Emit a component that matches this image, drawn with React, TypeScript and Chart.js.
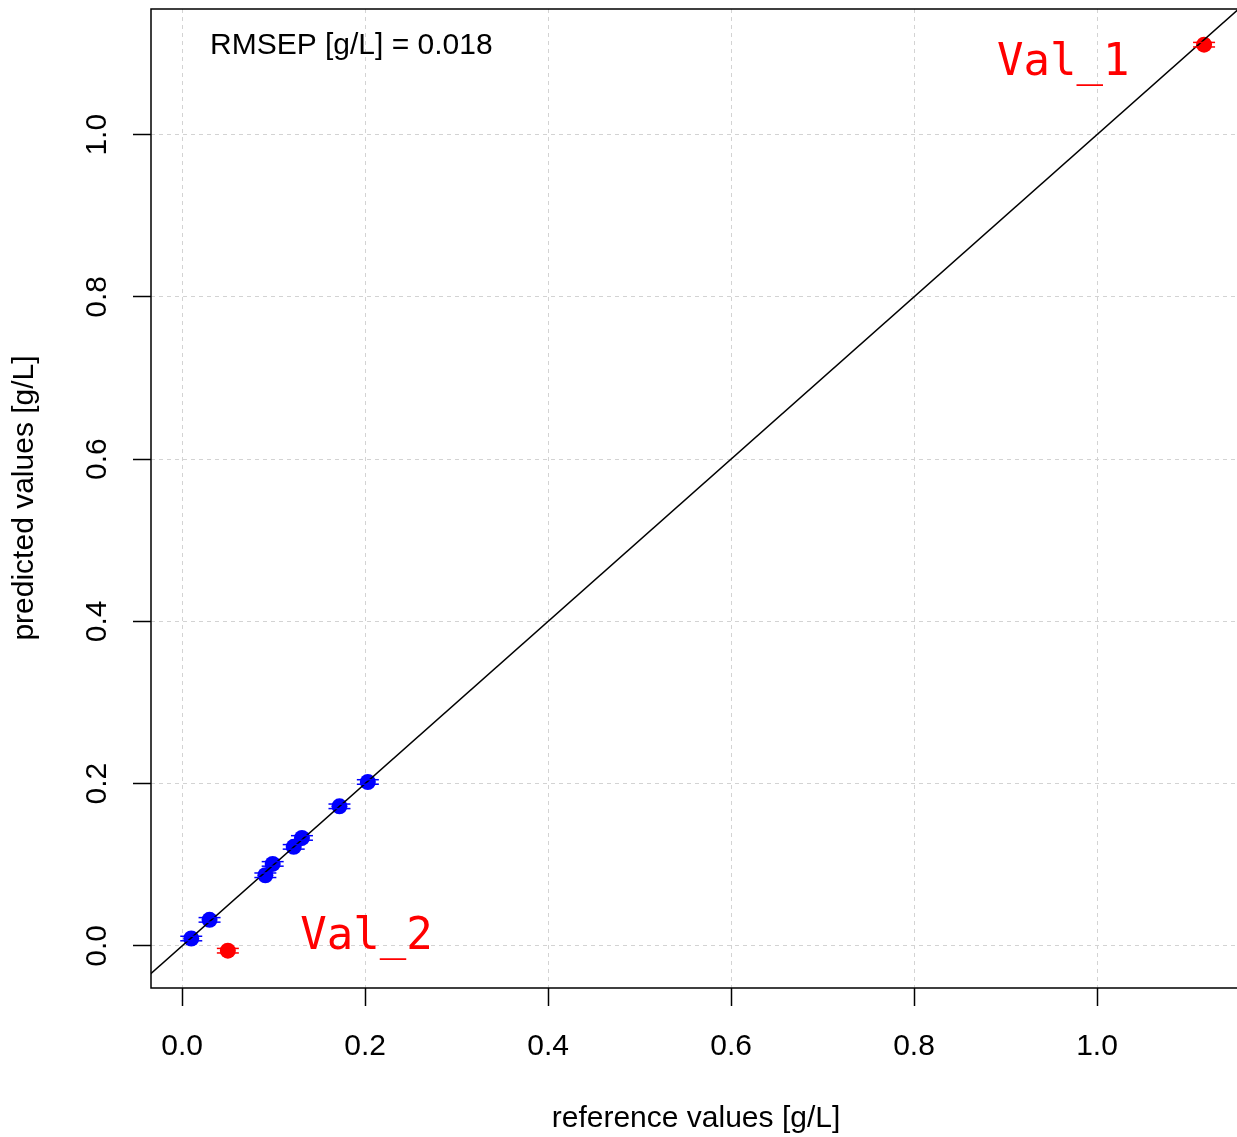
import React, { useEffect, useRef } from "react";
import { Chart, registerables } from "chart.js";

Chart.register(...registerables);

const TICKS = [0, 0.2, 0.4, 0.6, 0.8, 1.0];
const CAL_X = [0.010, 0.030, 0.091, 0.099, 0.122, 0.131, 0.172, 0.203];
const CAL_Y = [0.009, 0.032, 0.087, 0.101, 0.122, 0.133, 0.172, 0.202];
const VAL_X = [0.050, 1.117];
const VAL_Y = [-0.006, 1.111];
const VAL_NAMES = ["Val_2", "Val_1"];
const VAL_LABEL_X = [0.2015, 0.963];
const VAL_LABEL_Y = [-0.004, 1.074];
const Y_ERR = 0.0028;
const RMSEP_TEXT = "RMSEP [g/L] = 0.018";
const X_TITLE = "reference values [g/L]";
const Y_TITLE = "predicted values [g/L]";

const FONT = "'Liberation Sans', Arial, sans-serif";
const FS = 30;

export default function App() {
  const ref = useRef<HTMLCanvasElement | null>(null);

  useEffect(() => {
    document.body.style.margin = "0";
    const canvas = ref.current!;
    const overlay = {
      id: "overlay",
      afterDatasetsDraw(chart: any) {
        const ctx = chart.ctx;
        const xs = chart.scales.x;
        const ys = chart.scales.y;
        ctx.save();
        const drawErr = (xv: number[], yv: number[], color: string) => {
          ctx.strokeStyle = color;
          ctx.lineWidth = 1.5;
          xv.forEach((x, i) => {
            const px = xs.getPixelForValue(x);
            [yv[i] - Y_ERR, yv[i] + Y_ERR].forEach((yy) => {
              const py = ys.getPixelForValue(yy);
              ctx.beginPath();
              ctx.moveTo(px - 11, py);
              ctx.lineTo(px + 11, py);
              ctx.stroke();
            });
          });
        };
        drawErr(CAL_X, CAL_Y, "#0000FF");
        drawErr(VAL_X, VAL_Y, "#FF0000");
        ctx.restore();
      },
      afterDraw(chart: any) {
        const ctx = chart.ctx;
        const xs = chart.scales.x;
        const ys = chart.scales.y;
        const area = chart.chartArea;
        ctx.save();
        ctx.strokeStyle = "#000";
        ctx.lineWidth = 1.5;
        ctx.beginPath();
        ctx.moveTo(area.right + 2, area.top);
        ctx.lineTo(area.left, area.top);
        ctx.lineTo(area.left, area.bottom);
        ctx.lineTo(area.right + 2, area.bottom);
        ctx.stroke();
        ctx.fillStyle = "#000";
        ctx.font = `${FS}px ${FONT}`;
        ctx.textAlign = "center";
        ctx.textBaseline = "alphabetic";
        TICKS.forEach((t) => {
          const py = ys.getPixelForValue(t);
          ctx.save();
          ctx.translate(106, py);
          ctx.rotate(-Math.PI / 2);
          ctx.fillText(t.toFixed(1), 0, 0);
          ctx.restore();
        });
        ctx.fillText(X_TITLE, 696, 1127);
        ctx.save();
        ctx.translate(33, 498);
        ctx.rotate(-Math.PI / 2);
        ctx.fillText(Y_TITLE, 0, 0);
        ctx.restore();
        ctx.textAlign = "left";
        ctx.fillText(RMSEP_TEXT, 210, 54);
        ctx.fillStyle = "#FF0000";
        ctx.font = `44px 'DejaVu Sans Mono', monospace`;
        ctx.textAlign = "center";
        ctx.textBaseline = "alphabetic";
        VAL_NAMES.forEach((n, i) => {
          ctx.fillText(n, xs.getPixelForValue(VAL_LABEL_X[i]), ys.getPixelForValue(VAL_LABEL_Y[i]));
        });
        ctx.restore();
      },
    };

    const gridOpts = {
      color: "#D3D3D3",
      lineWidth: 1,
      drawTicks: true,
      tickLength: 18,
      tickColor: "#000",
      tickWidth: 1.5,
      tickBorderDash: [],
    } as any;

    const chart = new Chart(canvas, {
      type: "scatter",
      data: {
        datasets: [
          {
            type: "line",
            data: [
              { x: -0.2, y: -0.2 },
              { x: 1.3, y: 1.3 },
            ],
            borderColor: "#000",
            borderWidth: 1.5,
            pointRadius: 0,
            fill: false,
          } as any,
          {
            data: CAL_X.map((x, i) => ({ x, y: CAL_Y[i] })),
            backgroundColor: "#0000FF",
            borderColor: "#0000FF",
            pointRadius: 8,
            borderWidth: 0,
          },
          {
            data: VAL_X.map((x, i) => ({ x, y: VAL_Y[i] })),
            backgroundColor: "#FF0000",
            borderColor: "#FF0000",
            pointRadius: 8,
            borderWidth: 0,
          },
        ],
      },
      options: {
        animation: false,
        responsive: false,
        events: [],
        layout: { autoPadding: false, padding: { top: 9, right: 0, left: 0, bottom: 0 } },
        plugins: { legend: { display: false }, tooltip: { enabled: false } },
        scales: {
          x: {
            type: "linear",
            min: -0.034,
            max: 1.153,
            afterBuildTicks: (s: any) => {
              s.ticks = TICKS.map((v) => ({ value: v }));
            },
            afterFit: (s: any) => {
              s.height = 149;
              s.paddingLeft = 0;
              s.paddingRight = 0;
            },
            grid: gridOpts,
            border: { display: false, dash: [4, 4] },
            ticks: {
              color: "#000",
              font: { family: FONT, size: FS },
              padding: 23,
              maxRotation: 0,
              callback: (v: any) => Number(v).toFixed(1),
            },
          },
          y: {
            type: "linear",
            min: -0.052,
            max: 1.155,
            afterBuildTicks: (s: any) => {
              s.ticks = TICKS.map((v) => ({ value: v }));
            },
            afterFit: (s: any) => {
              s.width = 151;
              s.paddingTop = 0;
              s.paddingBottom = 0;
            },
            grid: gridOpts,
            border: { display: false, dash: [4, 4] },
            ticks: { display: false },
          },
        },
      },
      plugins: [overlay],
    } as any);
    return () => chart.destroy();
  }, []);

  return (
    <div style={{ position: "absolute", left: 0, top: 0 }}>
      <canvas ref={ref} width={1237} height={1137} style={{ display: "block" }} />
    </div>
  );
}
